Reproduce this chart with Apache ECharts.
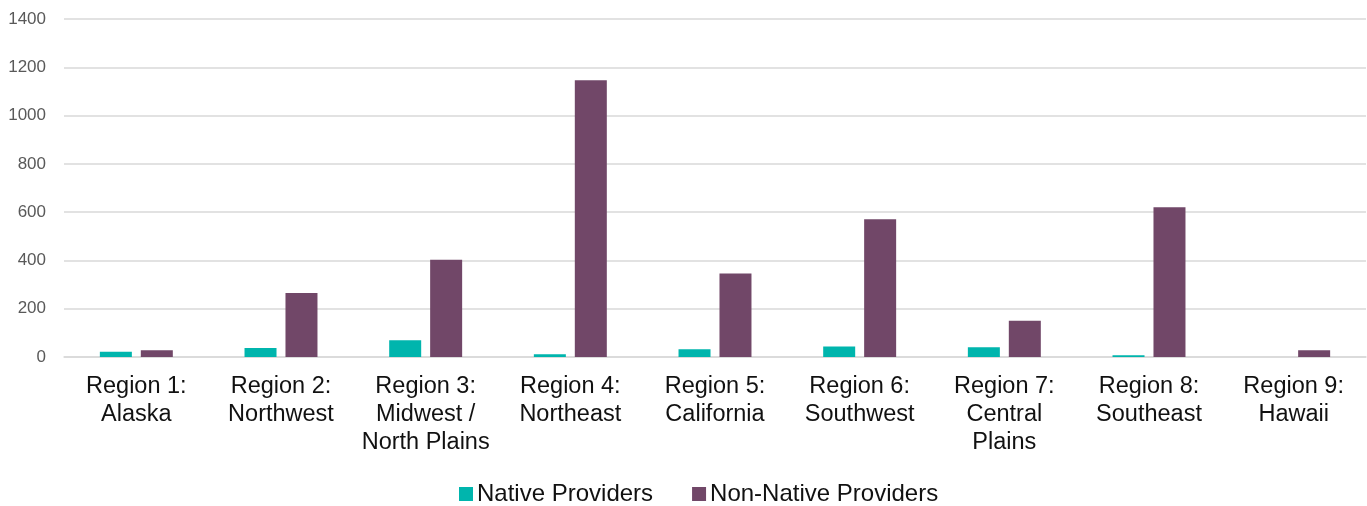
<!DOCTYPE html>
<html><head><meta charset="utf-8">
<script src="https://cdn.jsdelivr.net/npm/echarts@6/dist/echarts.min.js"></script>
<style>html,body{margin:0;padding:0;background:#fff}#c{width:1367px;height:506px}</style>
</head><body><div id="c"></div>
<script>
const categories = ["Region 1:\nAlaska","Region 2:\nNorthwest","Region 3:\nMidwest /\nNorth Plains","Region 4:\nNortheast","Region 5:\nCalifornia","Region 6:\nSouthwest","Region 7:\nCentral\nPlains","Region 8:\nSoutheast","Region 9:\nHawaii"];
const nativeProviders = [22, 37, 69, 11, 32, 43, 40, 7, 0];
const nonNativeProviders = [28, 265, 403, 1146, 346, 571, 150, 620, 28];
const yTicks = [0, 200, 400, 600, 800, 1000, 1200, 1400];

const FONT = 'Liberation Sans';
const chart = echarts.init(document.getElementById('c'));
chart.setOption({
  animation: false,
  grid: {left: 64, right: 1, top: 19, bottom: 149, containLabel: false},
  legend: {
    left: 454, top: 477, itemWidth: 14, itemHeight: 14, itemGap: 39,
    icon: 'rect',
    textStyle: {fontFamily: FONT, fontSize: 24, color: '#111', padding: [0,0,0,-1]},
    data: ['Native Providers', 'Non-Native Providers']
  },
  xAxis: {
    type: 'category', data: categories,
    axisLine: {lineStyle: {color: '#d9d9d9', width: 1.5}},
    axisTick: {show: false},
    axisLabel: {fontFamily: FONT, fontSize: 23.5, color: '#111', lineHeight: 28, margin: 16, interval: 0}
  },
  yAxis: {
    type: 'value', min: 0, max: 1400, interval: 200,
    axisLine: {show: false}, axisTick: {show: false},
    splitLine: {lineStyle: {color: '#d9d9d9', width: 1.5}},
    axisLabel: {fontFamily: FONT, fontSize: 17, color: '#595959', margin: 18,
      formatter: v => yTicks.includes(v) ? String(v) : ''}
  },
  series: [
    {name: 'Native Providers', type: 'bar', data: nativeProviders, barWidth: 32, barGap: '28%',
     itemStyle: {color: '#00b5ad'}},
    {name: 'Non-Native Providers', type: 'bar', data: nonNativeProviders, barWidth: 32, barGap: '28%',
     itemStyle: {color: '#714768'}}
  ]
});
</script></body></html>
